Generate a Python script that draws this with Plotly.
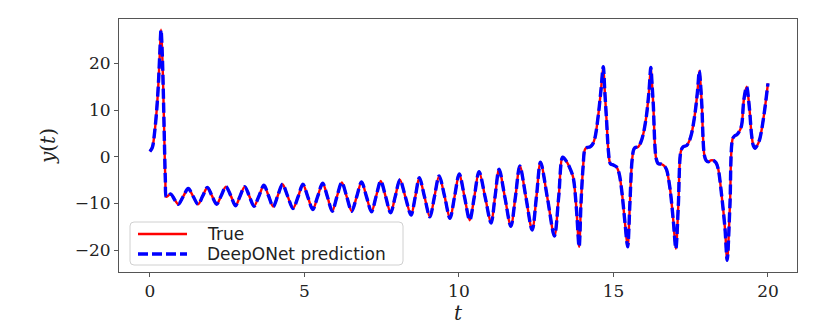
import plotly.graph_objects as go

# Time samples and solution values
t_vals = [
    0.00, 0.08, 0.16, 0.22, 0.27, 0.32, 0.36, 0.40, 0.43, 0.47, 0.50, 0.53, 0.60, 0.68, 0.80,
    0.92, 1.08, 1.24, 1.40, 1.56, 1.71, 1.86, 2.01, 2.16, 2.31, 2.46, 2.62, 2.77, 2.92, 3.07,
    3.22, 3.37, 3.53, 3.69, 3.84, 3.99, 4.14, 4.29, 4.46, 4.63, 4.80, 4.95, 5.11, 5.27, 5.43,
    5.59, 5.75, 5.90, 6.05, 6.21, 6.37, 6.53, 6.69, 6.85, 7.01, 7.17, 7.32, 7.47, 7.63, 7.79,
    7.94, 8.09, 8.27, 8.45, 8.59, 8.72, 8.89, 9.06, 9.21, 9.36, 9.54, 9.71, 9.86, 10.01, 10.18,
    10.35, 10.50, 10.65, 10.85, 11.04, 11.17, 11.30, 11.49, 11.68, 11.83, 11.97, 12.17, 12.37,
    12.51, 12.64, 12.87, 13.09, 13.23, 13.36, 13.50, 13.60, 13.70, 13.80, 13.89, 13.95, 14.02,
    14.08, 14.16, 14.24, 14.32, 14.40, 14.51, 14.60, 14.67, 14.72, 14.78, 14.84, 14.90, 15.00,
    15.10, 15.18, 15.26, 15.37, 15.46, 15.53, 15.60, 15.66, 15.72, 15.80, 15.88, 15.96, 16.07,
    16.15, 16.21, 16.25, 16.29, 16.38, 16.45, 16.55, 16.65, 16.72, 16.83, 16.94, 17.02, 17.10,
    17.18, 17.25, 17.37, 17.45, 17.53, 17.64, 17.72, 17.78, 17.82, 17.86, 17.94, 18.00, 18.07,
    18.15, 18.23, 18.32, 18.39, 18.50, 18.61, 18.68, 18.77, 18.86, 18.93, 18.99, 19.08, 19.15,
    19.22, 19.31, 19.40, 19.47, 19.53, 19.58, 19.66, 19.74, 19.87, 20.00,
]

y_true = [
    1.1, 2.0, 5.7, 10.0, 15.0, 22.0, 27.2, 22.0, 15.0, 3.0, -5.0, -8.6, -8.3, -8.0, -9.2,
    -10.2, -8.5, -6.8, -8.5, -10.2, -8.4, -6.6, -8.4, -10.2, -8.3, -6.4, -8.4, -10.5, -8.4, -6.4,
    -8.5, -10.6, -8.4, -6.1, -8.4, -10.7, -8.3, -5.9, -8.5, -11.1, -8.5, -5.9, -8.6, -11.3, -8.5,
    -5.7, -8.7, -11.7, -8.6, -5.5, -8.6, -11.7, -8.6, -5.4, -8.6, -11.8, -8.5, -5.2, -8.6, -12.0,
    -8.5, -4.9, -8.7, -12.5, -8.5, -4.5, -8.7, -12.9, -8.5, -4.1, -8.6, -13.2, -8.5, -3.7, -8.6,
    -13.6, -8.5, -3.2, -8.7, -14.2, -8.5, -2.7, -8.8, -14.9, -8.5, -2.0, -8.8, -15.7,
    -8.5, -1.2, -9.1, -17.0, -8.5, -0.1, -1.2, -2.6, -4.5, -11.0, -19.3, -10.0, -2.0,
    1.6, 2.0, 2.1, 2.6, 4.0, 8.9, 14.5, 19.3, 14.0, 7.5, 1.0, -1.5, -1.8,
    -2.2, -3.5, -6.8, -13.9, -19.3, -10.4, -1.0, 1.6, 2.0, 2.1, 3.0, 4.7, 8.9,
    14.0, 19.1, 15.5, 11.1, -0.3, -1.5, -1.6, -2.0, -2.8, -6.8, -13.9, -19.7, -10.4,
    1.1, 2.1, 2.4, 3.3, 5.0, 9.3, 14.0, 18.4, 15.5, 11.1, 0.4, -0.8, -1.1,
    -0.8, -0.8, -1.3, -2.6, -8.2, -15.4, -22.2, -10.4, 3.9, 4.5, 4.7, 5.5, 6.8,
    12.2, 15.0, 10.4, 4.7, 2.3, 1.8, 2.5, 3.9, 8.9, 15.7,
]

# The prediction overlays the true curve in the reference
y_pred = list(y_true)

x_ticks = [0, 5, 10, 15, 20]
y_ticks = [-20, -10, 0, 10, 20]
legend_labels = ["True", "DeepONet prediction"]

serif = "DejaVu Serif"
RED, BLUE = "#ff0000", "#0000ff"
red_line = dict(color=RED, width=2.4)
blue_line = dict(color=BLUE, width=3.4, dash="10px,4px")

fig = go.Figure()
fig.add_trace(go.Scatter(
    x=t_vals, y=y_true, mode="lines", name=legend_labels[0], showlegend=False,
    line=dict(**red_line, shape="spline", smoothing=0.9),
))
fig.add_trace(go.Scatter(
    x=t_vals, y=y_pred, mode="lines", name=legend_labels[1], showlegend=False,
    line=dict(**blue_line, shape="spline", smoothing=0.9),
))

axis_common = dict(
    showgrid=False, zeroline=False, showline=True, mirror=True, automargin=False,
    linecolor="#555555", linewidth=1, ticks="outside", ticklen=4, tickwidth=1,
    tickcolor="#555555", tickfont=dict(family=serif, size=17, color="#222222"),
)

# ---- matplotlib-style legend box (paper coordinates) ----
PW, PH = 678.0, 253.0          # plot area size in px
def px(dx):
    return dx / PW
def py(dy):
    return dy / PH

bx0, bx1 = px(11), px(284)       # box left/right
by0, by1 = py(7), py(50)         # box bottom/top
rx, ry = px(4), py(4)
box_path = (
    f"M {bx0+rx},{by0} L {bx1-rx},{by0} Q {bx1},{by0} {bx1},{by0+ry} "
    f"L {bx1},{by1-ry} Q {bx1},{by1} {bx1-rx},{by1} "
    f"L {bx0+rx},{by1} Q {bx0},{by1} {bx0},{by1-ry} "
    f"L {bx0},{by0+ry} Q {bx0},{by0} {bx0+rx},{by0} Z"
)
shapes = [
    dict(type="path", xref="paper", yref="paper", path=box_path,
         fillcolor="rgba(255,255,255,0.8)", line=dict(color="#d0d0d0", width=1), layer="above"),
    dict(type="line", xref="paper", yref="paper", x0=px(19), x1=px(68), y0=py(38), y1=py(38),
         line=red_line, layer="above"),
    dict(type="line", xref="paper", yref="paper", x0=px(19), x1=px(68), y0=py(18), y1=py(18),
         line=blue_line, layer="above"),
]
annotations = [
    dict(text=legend_labels[0], xref="paper", yref="paper", x=px(86), y=py(38),
         xanchor="left", yanchor="middle", showarrow=False,
         font=dict(family="DejaVu Sans", size=17, color="#222222")),
    dict(text=legend_labels[1], xref="paper", yref="paper", x=px(86), y=py(18),
         xanchor="left", yanchor="middle", showarrow=False,
         font=dict(family="DejaVu Sans", size=17, color="#222222")),
]

# page body has an 8px margin, so the figure is sized/offset to compensate
fig.update_layout(
    width=822, height=319,
    margin=dict(l=111, r=33, t=11, b=55),
    paper_bgcolor="white", plot_bgcolor="white",
    showlegend=False,
    shapes=shapes, annotations=annotations,
    xaxis=dict(
        range=[-1.0, 20.94], tickvals=x_ticks,
        title=dict(text="<i>t</i>", font=dict(family=serif, size=20, color="#222222"), standoff=0),
        **axis_common,
    ),
    yaxis=dict(
        range=[-24.7, 29.5], tickvals=y_ticks,
        title=dict(text="<i>y</i>(<i>t</i>)", font=dict(family=serif, size=20, color="#222222"), standoff=13),
        **axis_common,
    ),
)

fig.write_html("out.html")
